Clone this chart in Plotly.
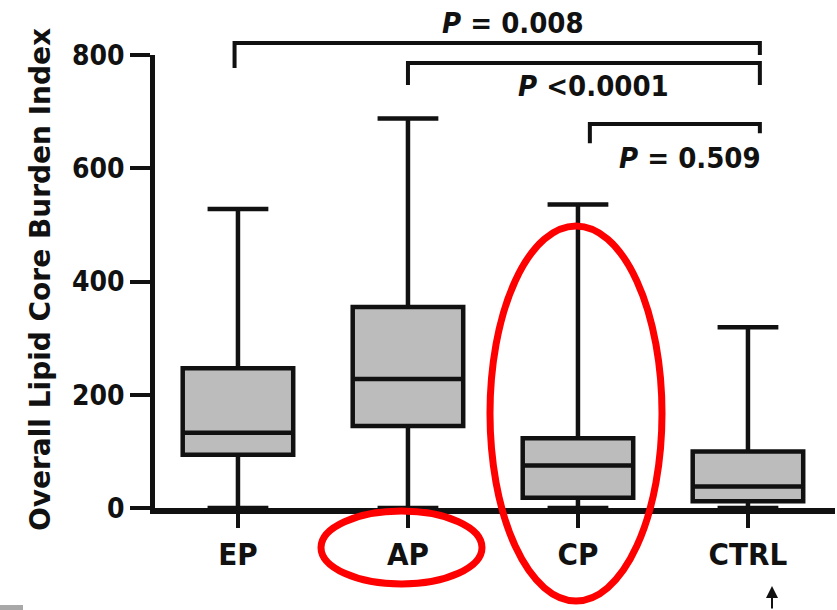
import plotly.graph_objects as go

# ---- data ----
categories = ["EP", "AP", "CP", "CTRL"]
lower_fence = [0, 0, 0, 0]
q1_vals = [94, 145, 18, 12]
median_vals = [133, 228, 75, 38]
q3_vals = [247, 355, 123, 100]
upper_fence = [528, 688, 536, 319]
y_ticks = [0, 200, 400, 600, 800]

# comparisons: (left category idx, right category idx, p-text)
comparisons = [
    (0, 3, "<i>P</i> = 0.008"),
    (1, 3, "<i>P</i> <0.0001"),
    (2, 3, "<i>P</i> = 0.509"),
]

# ---- layout geometry ----
W, H = 837, 610
L, R, T, B = 155, 2, 55, 102
XR = [-0.488, 3.512]
YR = [0, 800]
PW, PH = W - L - R, H - T - B

def dx(v):
    return (v - XR[0]) / (XR[1] - XR[0])

def dy(v):
    return (v - YR[0]) / (YR[1] - YR[0])

def pxx(p):
    return (p - L) / PW

def pxy(p):
    return (H - B - p) / PH

FONT = "DejaVu Sans Condensed, DejaVu Sans, sans-serif"
BLACK = "#111111"

fig = go.Figure()
fig.add_trace(go.Box(
    x=categories,
    q1=q1_vals, median=median_vals, q3=q3_vals,
    lowerfence=lower_fence, upperfence=upper_fence,
    fillcolor="#bcbcbc",
    line=dict(color=BLACK, width=4.5),
    width=0.65,
    whiskerwidth=0.55,
    boxpoints=False,
    hoverinfo="skip",
    showlegend=False,
))

shapes = []
annotations = []

# bracket geometry (style offsets, in data units)
br_specs = [
    # x offset left, x offset right, bar y, left leg end, right leg end, text x, text y, anchor
    (-0.02, 0.07, 821, 777, 800, 1.62, 856, "center"),
    (0.0, 0.07, 786, 747, 747, 2.09, 745, "center"),
    (0.07, 0.07, 678, 644, 662, 3.09, 618, "right"),
]
for (i0, i1, txt), (o0, o1, yb, yl, yr, tx, ty, anc) in zip(comparisons, br_specs):
    x0 = dx(i0 + o0)
    x1 = dx(i1 + o1)
    path = f"M {x0},{dy(yl)} L {x0},{dy(yb)} L {x1},{dy(yb)} L {x1},{dy(yr)}"
    shapes.append(dict(type="path", path=path, xref="paper", yref="paper",
                       line=dict(color=BLACK, width=4)))
    annotations.append(dict(x=dx(tx), y=dy(ty), xref="paper", yref="paper", text=txt,
                            showarrow=False, xanchor=anc, yanchor="middle",
                            font=dict(family=FONT, size=29, color=BLACK, weight="bold")))

# y axis title
annotations.append(dict(x=pxx(40), y=pxy(280), xref="paper", yref="paper",
                        text="Overall Lipid Core Burden Index", textangle=-90,
                        showarrow=False, xanchor="center", yanchor="middle",
                        font=dict(family="DejaVu Sans, sans-serif", size=28,
                                  color=BLACK, weight="bold")))

# red highlight ellipses
shapes.append(dict(type="circle", xref="paper", yref="paper",
                   x0=pxx(321), x1=pxx(482), y0=pxy(584), y1=pxy(511),
                   line=dict(color="#ff0000", width=7)))
shapes.append(dict(type="circle", xref="paper", yref="paper",
                   x0=pxx(490), x1=pxx(662), y0=pxy(601), y1=pxy(226),
                   line=dict(color="#ff0000", width=7)))

# small gray mark bottom-left
shapes.append(dict(type="rect", xref="paper", yref="paper",
                   x0=pxx(0), x1=pxx(23), y0=pxy(610), y1=pxy(605),
                   line=dict(width=0), fillcolor="#a8a8a8"))

# small arrow below CTRL
annotations.append(dict(x=pxx(772), y=pxy(586), xref="paper", yref="paper",
                        ax=0, ay=30, text="", showarrow=True,
                        arrowhead=2, arrowsize=1.2, arrowwidth=2,
                        arrowcolor=BLACK))

fig.update_layout(
    width=W, height=H,
    margin=dict(l=L, r=R, t=T, b=B, pad=0),
    paper_bgcolor="white", plot_bgcolor="white",
    showlegend=False,
    xaxis=dict(range=XR, showline=True, linewidth=5.5, linecolor=BLACK,
               ticks="outside", ticklen=14, tickwidth=4, tickcolor=BLACK,
               showgrid=False, zeroline=False, fixedrange=True, layer="above traces",
               tickfont=dict(family=FONT, size=31, color=BLACK, weight="bold")),
    yaxis=dict(range=YR, showline=True, linewidth=4.5, linecolor=BLACK,
               ticks="outside", ticklen=20, tickwidth=4, tickcolor=BLACK,
               tickvals=y_ticks, showgrid=False, zeroline=False, fixedrange=True,
               tickfont=dict(family=FONT, size=28, color=BLACK, weight="bold")),
    shapes=shapes,
    annotations=annotations,
)

fig.write_html("out.html", config={"displayModeBar": False},
               post_script="document.body.style.margin='0';")
